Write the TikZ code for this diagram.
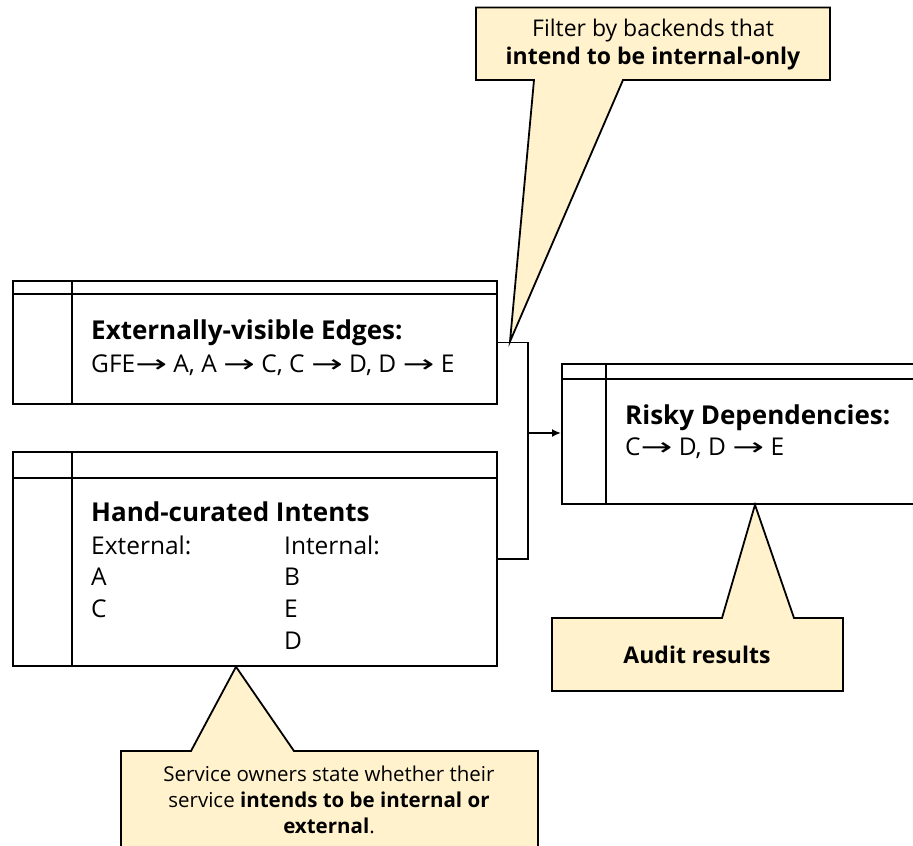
\documentclass[tikz,border=0pt]{standalone}
\usepackage{fontspec}
\setmainfont{Open Sans}
\newfontfamily\arrowfont{DejaVu Sans}
\usetikzlibrary{arrows.meta}
\definecolor{noteyellow}{HTML}{FFF2CC}
\newcommand{\depto}{\scalebox{1.55}[1]{\arrowfont →}}
\begin{document}
\begin{tikzpicture}[x=1pt,y=-1pt,
    wire/.style={line width=1.8pt},
    tbl/.style={draw,line width=1.8pt,anchor=north west,inner sep=0},
    note/.style={draw,fill=noteyellow,line width=1.8pt,line join=miter},
    head/.style={anchor=base west,inner sep=0,font=\fontsize{26}{30}\selectfont\bfseries},
    txt/.style={anchor=base west,inner sep=0,font=\fontsize{24.5}{30}\selectfont},
    notetxt/.style={align=center,inner sep=0,font=\fontsize{20.5}{26}\selectfont}]
    \useasboundingbox (0,0) rectangle (913,846);
    \clip (0,0) rectangle (913,846);
    % tables
    \node[tbl,minimum width=484pt,minimum height=123pt] (edges) at (12,280) {};
    \node[tbl,minimum width=484pt,minimum height=214pt] (intents) at (12,451) {};
    \node[tbl,minimum width=400pt,minimum height=140pt] (risky) at (561,363) {};
    \foreach \t/\h/\d in {edges/14pt/60pt,intents/27pt/60pt,risky/16pt/45pt}{
        \draw[wire] ([yshift=-\h]\t.north west) -- ([yshift=-\h]\t.north east);
        \draw[wire] ([xshift=\d]\t.north west) -- ([xshift=\d]\t.south west);
    }
    \node[head] (edgeshead) at (91,339) {Externally-visible Edges:};
    \node[txt] (edgeslist) at (91,372) {GFE\depto{} A, A \depto{} C, C \depto{} D, D \depto{} E};
    \node[head] (intentshead) at (91,521) {Hand-curated Intents};
    \node[txt] (exthead) at (91,554) {External:};
    \node[txt] (inthead) at (284,554) {Internal:};
    \node[txt] (extA) at (91,585) {A};
    \node[txt] (extC) at (91,617) {C};
    \node[txt] (intB) at (284,585) {B};
    \node[txt] (intE) at (284,617) {E};
    \node[txt] (intD) at (284,649) {D};
    \node[head] (riskyhead) at (625,424) {Risky Dependencies:};
    \node[txt] (riskylist) at (625,455) {C\depto{} D, D \depto{} E};
    % connectors
    \coordinate (join) at (528,433);
    \draw[wire] (edges.east) -| (join);
    \draw[wire] (intents.east) -| (join);
    \draw[wire,-{Latex[length=9pt,width=8pt]}] (join) -- (join -| risky.west);
    % callouts
    \coordinate (filtertip) at (510,341.5);
    \coordinate (audittip) at (risky.south -| 755,0);
    \coordinate (ownertip) at (intents.south -| 236,0);
    \draw[note] (476,7.5) -- (830,7.5) -- (830,80) -- (623,80) -- (filtertip) -- (534,80) -- (476,80) -- cycle;
    \draw[note] (552,618) -- (722,618) -- (audittip) -- (794,618) -- (843,618) -- (843,691) -- (552,691) -- cycle;
    \draw[note] (121,751) -- (191,751) -- (ownertip) -- (294,751) -- (538,751) -- (538,860) -- (121,860) -- cycle;
    \node[notetxt,font=\fontsize{23}{28}\selectfont] (filternote) at (653,45) {Filter by backends that\\\textbf{intend to be internal-only}};
    \node[notetxt,font=\fontsize{23}{28}\selectfont\bfseries] (auditnote) at (697,655) {Audit results};
    \node[notetxt] (ownernote) at (329,800) {Service owners state whether their\\service \textbf{intends to be internal or}\\\textbf{external}.};
\end{tikzpicture}
\end{document}
